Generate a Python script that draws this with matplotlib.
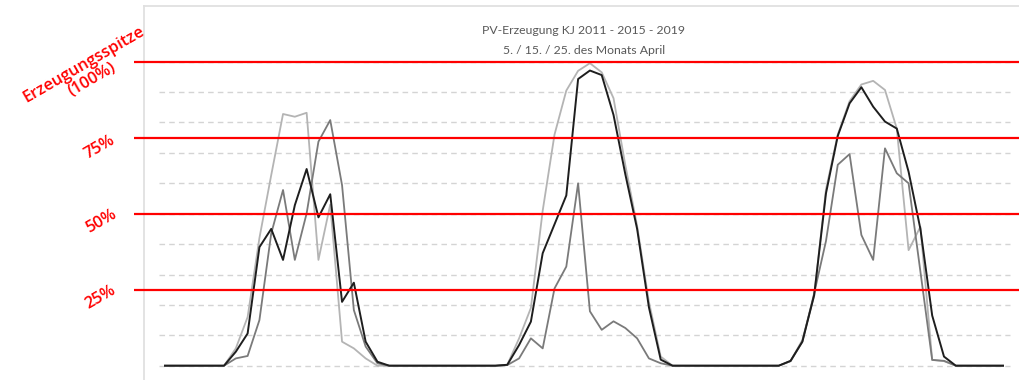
import matplotlib
matplotlib.use('Agg')
import matplotlib.pyplot as plt
import numpy as np

# hourly values, 3 days x 24 h, in % of the production peak
hours = np.arange(72)

pv_light = [0, 0, 0, 0, 0, 0, 5.7, 16, 42, 62.7, 82.8, 81.9, 83.2, 34.8, 53, 7.9, 5.7, 2.4, 0, 0, 0, 0, 0, 0,
            0, 0, 0, 0, 0, 0.3, 9, 19, 51, 76, 90.5, 97, 99.5, 96.5, 88, 66, 46, 21, 3, 0, 0, 0, 0, 0,
            0, 0, 0, 0, 0, 1.5, 8.5, 23, 58, 76, 87, 92.5, 93.7, 90.7, 78, 38, 45.7, 1.9, 1.5, 0, 0, 0, 0, 0]

pv_mid = [0, 0, 0, 0, 0, 0, 2.4, 3.2, 15, 43.5, 57.8, 34.8, 50.1, 73.7, 80.8, 59.4, 18.3, 6.3, 0.8, 0, 0, 0, 0, 0,
          0, 0, 0, 0, 0, 0.2, 2.4, 9, 5.7, 25.4, 32.6, 60, 17.9, 11.8, 14.6, 12.4, 9, 2.4, 0.8, 0, 0, 0, 0, 0,
          0, 0, 0, 0, 0, 1.5, 7.9, 23.8, 41, 66.1, 69.6, 43, 34.8, 71.5, 63.3, 60, 31, 1.9, 1.6, 0, 0, 0, 0, 0]

pv_dark = [0, 0, 0, 0, 0, 0, 4.6, 10.6, 39, 45, 34.8, 52.8, 64.7, 48.8, 56.4, 21, 27.3, 7.9, 1.3, 0, 0, 0, 0, 0,
           0, 0, 0, 0, 0, 0.3, 6.8, 14.5, 37, 46.5, 56, 94.3, 97.1, 95.6, 82.5, 63, 45, 19.2, 2, 0, 0, 0, 0, 0,
           0, 0, 0, 0, 0, 1.6, 7.9, 23.2, 56.7, 75.6, 86.3, 91.6, 85.2, 80.3, 78, 63.8, 45, 16.5, 3, 0, 0, 0, 0, 0]

grid_levels = np.arange(0, 101, 10)
red_levels = [25, 50, 75, 100]
red_labels = ['25%', '50%', '75%', 'Erzeugungsspitze\n(100%)']
red_label_px = [(100, 297), (101, 221), (100, 147), (88, 72)]

title1 = 'PV-Erzeugung KJ 2011 - 2015 - 2019'
title2 = '5. / 15. / 25. des Monats April'

W, H = 1019, 380
fig = plt.figure(figsize=(W / 100, H / 100), dpi=100)
ax = fig.add_axes([144 / W, 0, (W - 144) / W, (H - 6) / H])

# pixel mapping of the original chart
x0, dx = 165, 11.803
y0, dy = 365.7, 3.04
ax.set_xlim((144 - x0) / dx, (W - x0) / dx)
ax.set_ylim((y0 - H) / dy, (y0 - 6) / dy)

ax.hlines(grid_levels, -0.5, 71.6, colors='#d4d4d4', linewidth=1.0,
          linestyles=(0, (4, 3)), zorder=1)

ax.plot(hours, pv_light, color='#b4b4b4', linewidth=1.3, zorder=3)
ax.plot(hours, pv_mid, color='#7a7a7a', linewidth=1.3, zorder=4)
ax.plot(hours, pv_dark, color='#1e1e1e', linewidth=1.4, zorder=5)

ax.hlines(red_levels, (134 - x0) / dx, (W - x0) / dx, colors='#ff0000',
          linewidth=1.6, zorder=6, clip_on=False)

for sp in ['right', 'bottom']:
    ax.spines[sp].set_visible(False)
for sp in ['left', 'top']:
    ax.spines[sp].set_color('#e0e0e0')
    ax.spines[sp].set_linewidth(1.3)
ax.set_xticks([])
ax.set_yticks([])

fig.text(583 / W, 1 - 31 / H, title1, ha='center', va='center',
         color='#595959', fontsize=8.8, family='Lato')
fig.text(584 / W, 1 - 50 / H, title2, ha='center', va='center',
         color='#595959', fontsize=8.8, family='Lato')

for lab, (px, py) in zip(red_labels, red_label_px):
    fig.text(px / W, 1 - py / H, lab, ha='center', va='center', rotation=30,
             rotation_mode='anchor', color='#ff0000', fontsize=11.8,
             fontweight='semibold', family='Open Sans', linespacing=1.1,
             multialignment='center')

fig.savefig('out.png', dpi=100)
